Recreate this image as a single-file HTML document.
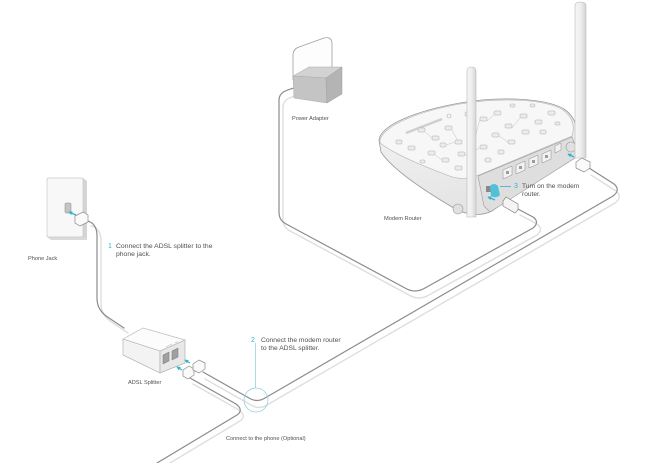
<!DOCTYPE html>
<html><head><meta charset="utf-8">
<style>
html,body{margin:0;padding:0;background:#fff;}
svg{display:block;}
text{font-family:"Liberation Sans",sans-serif;fill:#505050;}
.n{fill:#2fb3cf;}
</style></head><body>
<svg width="652" height="463" viewBox="0 0 652 463" xmlns="http://www.w3.org/2000/svg">
<defs>
<linearGradient id="ant" x1="0" x2="1"><stop offset="0" stop-color="#f6f6f6"/><stop offset="0.5" stop-color="#eeeeee"/><stop offset="1" stop-color="#d4d4d4"/></linearGradient>
<linearGradient id="body" x1="0" y1="0" x2="0.3" y2="1"><stop offset="0" stop-color="#f6f6f6"/><stop offset="1" stop-color="#e4e4e4"/></linearGradient>
<marker id="ah" viewBox="0 0 6 6" refX="5" refY="3" markerWidth="3" markerHeight="3" orient="auto"><path d="M0,0 L6,3 L0,6 Z" fill="#2fb3cf"/></marker>
</defs>

<!-- cable shadows -->
<g fill="none" stroke="#dedede" stroke-width="1.4" stroke-linecap="round">
 <path transform="translate(4,5)" d="M87,221 C93,222 97,227 97,236 L97,298 C97,307 101,313 109,318 L124,328"/>
 <path transform="translate(2,7)" d="M203,372 L249,398 Q257,403 265,398 L613,196 Q621,190 614,184 L589,168"/>
 <path transform="translate(3,6)" d="M190,378 L236,404 Q244,410 237,415 L157,463"/>
 <path transform="translate(4,7)" d="M294,88 C287,90 279,92 279,100 L279,212 C279,219 282,222 288,225 L405,288 Q415,294 425,288 L533,228 Q540,222 533,217 L516,208"/>
</g>
<!-- cables -->
<g fill="none" stroke="#8c8c8c" stroke-width="1.2" stroke-linecap="round">
 <path d="M87,221 C93,222 97,227 97,236 L97,298 C97,307 101,313 109,318 L124,328"/>
 <path d="M203,372 L249,398 Q257,403 265,398 L613,196 Q621,190 614,184 L589,168"/>
 <path d="M190,378 L236,404 Q244,410 237,415 L157,463"/>
 <path d="M294,88 C287,90 279,92 279,100 L279,212 C279,219 282,222 288,225 L405,288 Q415,294 425,288 L533,228 Q540,222 533,217 L516,208"/>
</g>

<!-- Phone jack -->
<polygon points="83,178 87,181 87,240 83,237" fill="#d4d4d4"/>
<polygon points="47,237 83,237 87,240 51,240" fill="#dadada"/>
<rect x="47" y="178" width="36" height="59" rx="1.5" fill="#f8f8f8" stroke="#c8c8c8" stroke-width="0.7"/>
<rect x="65" y="203" width="6" height="10" rx="1" fill="#c4c4c4" stroke="#8a8a8a" stroke-width="0.5"/>
<polygon points="75,216 83,212 88,215 88,222 80,226 75,223" fill="#fafafa" stroke="#8a8a8a" stroke-width="0.7"/>
<line x1="76" y1="215" x2="69" y2="212" stroke="#2fb3cf" stroke-width="1.3" marker-end="url(#ah)"/>

<!-- ADSL splitter -->
<polygon points="123,339 160,351 160,373 123,355" fill="#f3f3f3" stroke="#b5b5b5" stroke-width="0.7"/>
<polygon points="160,351 185,340 185,363 160,373" fill="#e8e8e8" stroke="#b0b0b0" stroke-width="0.7"/>
<polygon points="123,339 143,328 185,340 160,351" fill="#fcfcfc" stroke="#bdbdbd" stroke-width="0.7"/>
<polygon points="163,355 169,352 169,361 163,364" fill="#a0a0a0" stroke="#777" stroke-width="0.5"/>
<polygon points="172,351 178,348 178,357 172,360" fill="#a0a0a0" stroke="#777" stroke-width="0.5"/>
<path d="M166,347 l6,-3 M175,343 l3,-1.5" stroke="#bbb" stroke-width="0.6"/>
<!-- splitter plugs -->
<polygon points="183,370 189,366 194,369 194,375 188,379 183,376" fill="#fafafa" stroke="#8a8a8a" stroke-width="0.7"/>
<polygon points="193,364 199,360 205,363 205,369 199,373 193,370" fill="#fafafa" stroke="#8a8a8a" stroke-width="0.7"/>
<line x1="182" y1="370" x2="177" y2="367" stroke="#2fb3cf" stroke-width="1.3" marker-end="url(#ah)"/>
<line x1="190" y1="363" x2="185" y2="360" stroke="#2fb3cf" stroke-width="1.3" marker-end="url(#ah)"/>

<!-- circle callout -->
<circle cx="256" cy="400" r="12" fill="none" stroke="#8fd3e2" stroke-width="0.8"/>
<line x1="255.5" y1="343" x2="255.5" y2="388" stroke="#8fd3e2" stroke-width="0.8"/>

<!-- Power adapter -->
<path d="M293,80 L293,55 Q293,49 299,47 L324,38 Q332,36 332,44 L332,70" fill="#fdfdfd" stroke="#9e9e9e" stroke-width="0.8"/>
<polygon points="293,76 309,67 342,67 326,78" fill="#d2d2d2" stroke="#aaa" stroke-width="0.5"/>
<polygon points="293,76 326,78 327,103 294,98" fill="#c4c4c4" stroke="#aaa" stroke-width="0.5"/>
<polygon points="326,78 342,67 342,94 327,103" fill="#b4b4b4" stroke="#a0a0a0" stroke-width="0.5"/>

<!-- Router body -->
<path d="M379,140 C381,124 420,110 460,103 C500,96 545,98 564,109 C576,117 579,130 577,150 L492,211 C480,217 465,215 452,207 C425,191 392,169 381,152 Z" fill="url(#body)" stroke="#9a9a9a" stroke-width="0.8"/>
<path d="M380,140 C384,125 420,111 460,104 C500,97 545,99 563,110 C573,117 575,127 572,136 L479,175 C470,179 458,180 447,175 C420,165 393,153 380,143 Z" fill="#f7f7f7" stroke="#b0b0b0" stroke-width="0.6"/>
<!-- top pattern -->
<line x1="406" y1="133" x2="442" y2="119" stroke="#cfcfcf" stroke-width="2.5"/>
<circle cx="449" cy="116" r="2" fill="none" stroke="#aaa" stroke-width="0.6"/>
<g fill="#ececec" stroke="#adadad" stroke-width="0.5">
 <rect x="418" y="128" width="7" height="4" rx="1"/>
 <rect x="432" y="136" width="7" height="4" rx="1"/>
 <rect x="445" y="126" width="7" height="4" rx="1"/>
 <rect x="455" y="140" width="7" height="4" rx="1"/>
 <rect x="480" y="117" width="7" height="4" rx="1"/>
 <rect x="494" y="111" width="7" height="4" rx="1"/>
 <rect x="505" y="124" width="7" height="4" rx="1"/>
 <rect x="520" y="114" width="7" height="4" rx="1"/>
 <rect x="535" y="120" width="7" height="4" rx="1"/>
 <rect x="548" y="111" width="7" height="4" rx="1"/>
 <rect x="428" y="151" width="7" height="4" rx="1"/>
 <rect x="442" y="158" width="7" height="4" rx="1"/>
 <rect x="458" y="152" width="7" height="4" rx="1"/>
 <rect x="480" y="145" width="7" height="4" rx="1"/>
 <rect x="492" y="133" width="7" height="4" rx="1"/>
 <rect x="508" y="140" width="7" height="4" rx="1"/>
 <rect x="522" y="130" width="7" height="4" rx="1"/>
 <rect x="408" y="146" width="7" height="4" rx="1"/>
 <rect x="396" y="140" width="6" height="4" rx="1"/>
 <rect x="455" y="166" width="7" height="4" rx="1"/>
 <rect x="485" y="158" width="6" height="4" rx="1"/>
 <rect x="540" y="130" width="6" height="4" rx="1"/>
 <rect x="465" y="112" width="6" height="4" rx="1"/>
 <rect x="510" y="104" width="5" height="3" rx="1"/>
 <rect x="440" y="143" width="6" height="4" rx="1"/>
 <rect x="470" y="132" width="6" height="4" rx="1"/>
 <rect x="420" y="160" width="5" height="3" rx="1"/>
 <rect x="498" y="150" width="6" height="4" rx="1"/>
 <rect x="530" y="104" width="5" height="3" rx="1"/>
 <rect x="555" y="122" width="5" height="3" rx="1"/>
</g>
<g fill="none" stroke="#c4c4c4" stroke-width="0.5">
 <path d="M425,132 L432,138 M452,130 L458,141 M487,121 L494,115 M512,128 L520,118 M435,155 L442,160 M465,155 L480,148 M499,136 L508,142 M446,145 L455,142 M476,134 L480,119"/>
</g>
<!-- back panel -->
<path d="M478,176 L572,137 L577,150 L575,158 L490,212 L484,206 Z" fill="#dedede" stroke="#999" stroke-width="0.6"/>
<g fill="#f2f2f2" stroke="#8a8a8a" stroke-width="0.5">
 <polygon points="503,170 512,166 512,175 503,179"/>
 <polygon points="516,165 525,161 525,170 516,174"/>
 <polygon points="529,159 538,155 538,164 529,168"/>
 <polygon points="542,154 551,150 551,159 542,163"/>
 <polygon points="555,146 561,143 561,150 555,153"/>
</g>
<g fill="#9c9c9c">
 <rect x="506" y="171" width="3" height="3"/><rect x="519" y="166" width="3" height="3"/>
 <rect x="532" y="160" width="3" height="3"/><rect x="545" y="155" width="3" height="3"/>
</g>
<rect x="486" y="186" width="5" height="6" fill="#888"/>
<circle cx="458" cy="209" r="5" fill="#e0e0e0" stroke="#999" stroke-width="0.6"/>
<circle cx="571" cy="147" r="5" fill="#e0e0e0" stroke="#999" stroke-width="0.6"/>
<!-- power button hand -->
<path d="M490,186 Q494,182 498,186 L500,195 Q496,199 491,196 Z" fill="#4fc2da"/>
<line x1="500" y1="186.5" x2="511" y2="186.5" stroke="#2fb3cf" stroke-width="0.8"/>

<!-- antennas -->
<path d="M467,217 L467,71 Q467,67 471.5,67 Q476,67 476,71 L476,217 Z" fill="url(#ant)" stroke="#b8b8b8" stroke-width="0.6"/>
<path d="M575,158 L575,6 Q575,2 580.5,2 Q586,2 586,6 L586,158 Z" fill="url(#ant)" stroke="#b8b8b8" stroke-width="0.6"/>

<!-- router plugs -->
<polygon points="503,201 506,197 518,204 518,210 515,213 503,206" fill="#f4f4f4" stroke="#8a8a8a" stroke-width="0.7"/>
<line x1="495" y1="200" x2="488" y2="197" stroke="#2fb3cf" stroke-width="1.3" marker-end="url(#ah)"/>
<polygon points="576,162 582,158 590,162 590,168 584,172 576,168" fill="#fafafa" stroke="#8a8a8a" stroke-width="0.7"/>
<line x1="574" y1="157" x2="568" y2="154" stroke="#2fb3cf" stroke-width="1.3" marker-end="url(#ah)"/>

<!-- labels -->
<text x="28" y="260" font-size="5.6">Phone Jack</text>
<text x="108" y="248" font-size="7" class="n">1</text>
<text x="116" y="248" font-size="6.8">Connect the ADSL splitter to the</text>
<text x="116" y="256" font-size="6.8">phone jack.</text>
<text x="128" y="384" font-size="5.6">ADSL Splitter</text>
<text x="251" y="342" font-size="7" class="n">2</text>
<text x="261" y="342" font-size="6.7">Connect the modem router</text>
<text x="261" y="350" font-size="6.7">to the ADSL splitter.</text>
<text x="226" y="440" font-size="5.6">Connect to the phone (Optional)</text>
<text x="292" y="120" font-size="5.6">Power Adapter</text>
<text x="384" y="220" font-size="5.7">Modem Router</text>
<text x="514" y="188" font-size="7" class="n">3</text>
<text x="522" y="188" font-size="6.6">Turn on the modem</text>
<text x="522" y="196" font-size="6.6">router.</text>
</svg>
</body></html>
